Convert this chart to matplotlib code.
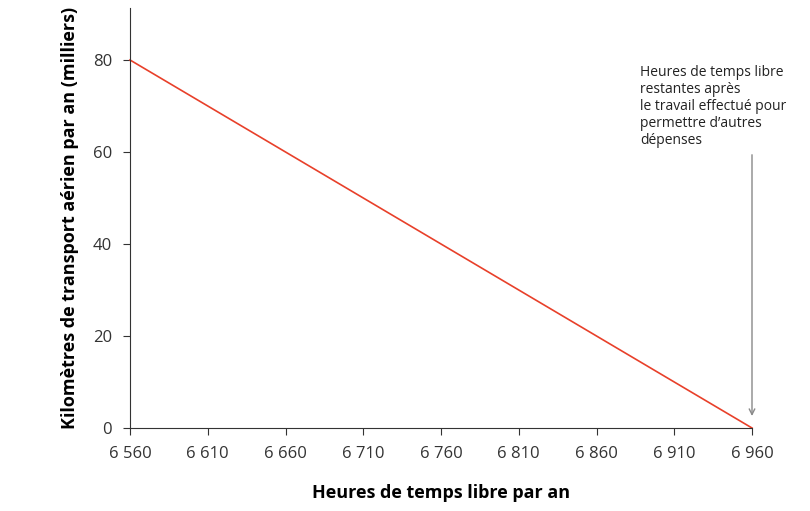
import matplotlib.pyplot as plt

plt.rcParams['font.family'] = ['Open Sans', 'DejaVu Sans']

# budget line: free hours vs thousands of km flown
hours = [6560, 6960]
km = [80, 0]
xticks = [6560, 6610, 6660, 6710, 6760, 6810, 6860, 6910, 6960]
yticks = [0, 20, 40, 60, 80]

fig = plt.figure(figsize=(8.1, 5.11), dpi=100)
ax = fig.add_axes([130/810, 1-428/511, 622/810, 420/511])
ax.plot(hours, km, color='#e8402a', lw=1.2, clip_on=False)
ax.set_xlim(6560, 6960)
ax.set_ylim(0, 91.3)
ax.set_xticks(xticks)
ax.set_xticklabels([f"{t:,}".replace(",", " ") for t in xticks])
ax.set_yticks(yticks)
for s in ['top', 'right']:
    ax.spines[s].set_visible(False)
for s in ['left', 'bottom']:
    ax.spines[s].set_color('#333333')
ax.tick_params(labelsize=12, length=5, pad=8, colors='#333333')
ax.set_xlabel('Heures de temps libre par an', fontsize=13, fontweight='bold', labelpad=16)
ax.set_ylabel('Kilomètres de transport aérien par an (milliers)', fontsize=13, fontweight='bold', labelpad=10)

ax.annotate('', xy=(6960, 2), xytext=(6960, 60),
            arrowprops=dict(arrowstyle='->', color='#888888', lw=1))
ax.text(6888, 79, "Heures de temps libre\nrestantes après\nle travail effectué pour\npermettre d’autres\ndépenses",
        fontsize=10, va='top', ha='left', color='#222222', linespacing=1.2)

fig.savefig('out.png', dpi=100)
